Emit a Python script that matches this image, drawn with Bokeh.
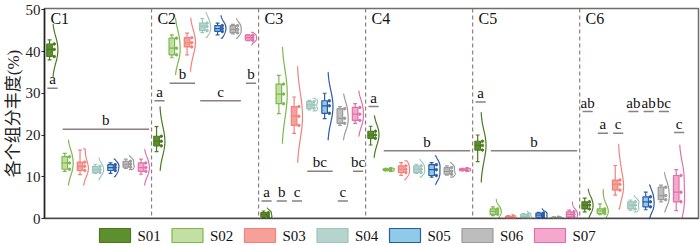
import numpy as np
from bokeh.plotting import figure
from bokeh.layouts import column
from bokeh.models import (Range1d, Span, FixedTicker)
from bokeh.core.properties import value
from bokeh.embed import file_html
from bokeh.resources import INLINE

groups = ["C1", "C2", "C3", "C4", "C5", "C6"]
samples = ["S01", "S02", "S03", "S04", "S05", "S06", "S07"]

# per group (rows) x sample (cols)
wmin = [[38.0, 11.3, 10.5, 10.8, 10.8, 12.0, 10.6],
        [16.0, 38.5, 39.2, 44.5, 44.0, 44.2, 42.6],
        [0.2, 25.1, 20.4, 26.0, 23.9, 22.3, 22.8],
        [17.6, 11.4, 10.3, 10.8, 9.9, 10.4, 11.4],
        [13.6, 0.7, 0.0, 0.0, 0.1, 0.05, 0.2],
        [1.6, 0.9, 5.6, 2.0, 2.1, 4.0, 1.9]]
q1 = [[38.8, 11.8, 11.5, 11.0, 11.5, 12.3, 11.3],
      [17.4, 39.2, 41.1, 45.0, 44.8, 44.5, 42.7],
      [0.4, 27.5, 22.3, 26.4, 25.2, 22.8, 23.5],
      [19.2, 11.5, 11.0, 11.0, 10.3, 10.6, 11.5],
      [16.4, 1.0, 0.1, 0.2, 0.3, 0.1, 0.4],
      [2.3, 1.2, 6.8, 2.3, 2.8, 4.5, 4.0]]
med = [[40.5, 13.3, 12.5, 11.7, 12.2, 13.0, 12.2],
       [18.5, 40.8, 42.1, 46.0, 45.5, 45.3, 43.3],
       [0.9, 29.8, 24.5, 27.2, 27.0, 24.0, 25.0],
       [20.0, 11.7, 11.8, 11.8, 11.7, 11.3, 11.7],
       [17.5, 1.7, 0.3, 0.5, 0.8, 0.2, 1.0],
       [3.2, 1.8, 8.2, 3.2, 4.0, 5.5, 6.3]]
q3 = [[41.8, 14.8, 13.5, 12.5, 12.9, 13.7, 13.3],
      [19.7, 43.2, 43.3, 46.8, 46.2, 46.2, 43.9],
      [1.4, 32.2, 26.8, 28.0, 28.2, 26.3, 26.6],
      [20.9, 11.9, 12.6, 12.6, 12.9, 12.2, 11.9],
      [18.5, 2.3, 0.5, 1.0, 1.3, 0.3, 1.6],
      [4.0, 2.3, 9.2, 4.0, 5.2, 7.5, 10.3]]
wmax = [[42.8, 15.6, 16.4, 13.0, 13.3, 14.2, 14.2],
        [22.0, 44.0, 44.4, 47.9, 46.8, 46.5, 44.0],
        [1.8, 34.3, 29.1, 28.3, 30.0, 26.8, 27.5],
        [22.1, 12.0, 13.4, 13.0, 13.4, 12.6, 12.0],
        [20.0, 2.8, 0.7, 1.2, 1.5, 0.4, 2.0],
        [4.9, 3.5, 12.7, 4.4, 6.3, 8.0, 11.7]]
vmin = [[34.0, 8.0, 8.0, 9.3, 10.0, 11.7, 8.0],
        [11.5, 34.5, 35.2, 43.4, 43.2, 43.2, 41.6],
        [0.0, 18.0, 13.4, 25.8, 18.8, 18.8, 19.7],
        [14.6, 11.3, 9.3, 9.9, 8.2, 9.9, 11.3],
        [8.7, 0.0, 0.0, 0.0, 0.0, 0.0, 0.0],
        [0.0, 0.0, 2.3, 1.6, 0.0, 1.6, 0.0]]
vmax = [[46.5, 18.8, 16.7, 14.5, 14.2, 15.0, 16.5],
        [26.8, 48.0, 48.0, 49.3, 48.6, 47.9, 44.6],
        [2.5, 41.0, 36.4, 28.8, 35.0, 29.8, 30.5],
        [24.6, 12.2, 13.8, 14.1, 15.0, 13.4, 12.2],
        [25.4, 4.6, 1.0, 1.8, 2.4, 0.5, 4.0],
        [7.0, 7.0, 17.8, 5.4, 8.0, 11.0, 17.6]]

# significance letters: group, first sample, last sample, height, letter
sig_group = [0, 0, 1, 1, 1, 1, 2, 2, 2, 2, 2, 2, 3, 3, 4, 4, 5, 5, 5, 5, 5, 5, 5]
sig_from = [0, 1, 0, 1, 3, 6, 0, 1, 2, 3, 5, 6, 0, 1, 0, 1, 0, 1, 2, 3, 4, 5, 6]
sig_to = [0, 6, 0, 2, 5, 6, 0, 1, 2, 4, 5, 6, 0, 6, 0, 6, 0, 1, 2, 3, 4, 5, 6]
sig_y = [31.2, 21.4, 28.2, 32.4, 28.2, 32.4, 4.2, 4.2, 4.2, 11.3, 4.2, 11.3,
         26.8, 16.2, 27.9, 16.2, 25.6, 20.4, 20.4, 25.6, 25.6, 25.6, 20.6]
sig_text = ["a", "b", "a", "b", "c", "b", "a", "b", "c", "bc", "c", "bc",
            "a", "b", "a", "b", "ab", "a", "c", "ab", "ab", "bc", "c"]

box_fill = ["#5e8f2f", "#c4dfa4", "#f5a199", "#b5d4cd", "#8fcbe8", "#bdbdbd", "#f4a8cb"]
box_line = ["#4a7a1f", "#7cb84c", "#f0827c", "#9cc5bc", "#2a5ba8", "#9a9a9a", "#e070aa"]
sep_color = "#8e7f7f"
SERIF = "'Liberation Serif', 'Times New Roman', serif"

GW = 0.047   # offset of first sample in group
SW = 0.1425  # sample spacing
BH = 0.026   # box half width
CH = 0.018   # cap half width
VW = 0.048   # violin width


def xpos(g, s):
    return g + GW + s * SW


p = figure(frame_width=654, frame_height=210, output_backend="svg", toolbar_location=None,
           x_range=Range1d(0, 6.11), y_range=Range1d(0, 50.3),
           x_axis_location=None, min_border_left=34, min_border_right=3,
           min_border_top=8, min_border_bottom=9)
p.grid.visible = False
p.outline_line_color = "#6e6e6e"
p.outline_line_width = 1.5
p.background_fill_color = "white"

yax = p.yaxis[0]
yax.ticker = FixedTicker(ticks=[0, 10, 20, 30, 40, 50])
yax.axis_line_color = "#222222"
yax.axis_line_width = 1.5
yax.major_tick_out = 3
yax.major_tick_in = 0
yax.minor_tick_out = 0
yax.minor_tick_in = 0
yax.major_tick_line_color = "#222222"
yax.major_label_text_font = SERIF
yax.major_label_text_font_size = "15px"
yax.major_label_text_color = "#222222"
yax.major_label_standoff = 1
yax.axis_label = "各个组分丰度(%)"
yax.axis_label_text_font = "'Liberation Serif', 'Noto Sans CJK SC'"
yax.axis_label_text_font_size = "17px"
yax.axis_label_text_font_style = "normal"
yax.axis_label_text_color = "#222222"
yax.axis_label_standoff = 0

p.add_layout(Span(location=0, dimension="width", line_color="#222222", line_width=1.5))

# group separators
for g in range(1, 6):
    p.add_layout(Span(location=g, dimension="height", line_color=sep_color,
                      line_width=1.2, line_dash="4 3"))

# group labels
p.text(x=[g + 0.055 for g in range(6)], y=[50.0] * 6, text=groups,
       text_font=value(SERIF), text_font_size="16px", text_baseline="top",
       text_align="left", text_color="#111111")

# boxes, whiskers, violins, dots
for s in range(7):
    bl, br, bt, bb = [], [], [], []
    wx0, wy0, wx1, wy1 = [], [], [], []
    vx, vy = [], []
    dx, dy = [], []
    for g in range(6):
        xc = xpos(g, s)
        bl.append(xc - BH); br.append(xc + BH)
        bb.append(q1[g][s]); bt.append(q3[g][s])
        wx0 += [xc, xc, xc - CH, xc - CH]
        wx1 += [xc, xc, xc + CH, xc + CH]
        wy0 += [wmin[g][s], q3[g][s], wmin[g][s], wmax[g][s]]
        wy1 += [q1[g][s], wmax[g][s], wmin[g][s], wmax[g][s]]
        # half violin (kde of the summary values)
        pts = np.array([wmin[g][s], q1[g][s], med[g][s], q3[g][s], wmax[g][s]])
        lo, hi = vmin[g][s], vmax[g][s]
        h = max((hi - lo) / 6.0, 0.12)
        ys = np.linspace(hi, lo, 50)
        d = np.exp(-0.5 * ((ys[:, None] - pts[None, :]) / h) ** 2).sum(axis=1)
        d = d / d.max()
        spine = xc + BH + 0.004
        vx.append(list(np.r_[spine, spine + VW * d, spine]))
        vy.append(list(np.r_[hi, ys, lo]))
        dx += [spine + 0.014] * 3
        dy += [q1[g][s], med[g][s], q3[g][s]]
    p.multi_line(xs=vx, ys=vy, line_color=box_line[s], line_width=1.2)
    p.segment(x0=wx0, y0=wy0, x1=wx1, y1=wy1, line_color=box_line[s], line_width=1.2)
    p.quad(left=bl, right=br, top=bt, bottom=bb, fill_color=box_fill[s],
           line_color=box_line[s], line_width=1.2)
    p.segment(x0=[xpos(g, s) - BH for g in range(6)], x1=[xpos(g, s) + BH for g in range(6)],
              y0=[med[g][s] for g in range(6)], y1=[med[g][s] for g in range(6)],
              line_color=box_line[s], line_width=1.2)
    p.scatter(x=dx, y=dy, size=2.5, color=box_line[s])

# significance lines and letters
lx0 = [xpos(g, a) - 0.02 for g, a in zip(sig_group, sig_from)]
lx1 = [xpos(g, b) + 0.075 for g, b in zip(sig_group, sig_to)]
p.segment(x0=lx0, x1=lx1, y0=sig_y, y1=sig_y, line_color=sep_color, line_width=1.5)
p.text(x=[(a + b) / 2 for a, b in zip(lx0, lx1)], y=[v + 0.2 for v in sig_y], text=sig_text,
       text_font=value(SERIF), text_font_size="15px", text_align="center",
       text_baseline="bottom", text_color="#111111")

# legend strip (pixel coordinates, frame aligned with the plot frame)
leg = figure(frame_width=654, frame_height=18, output_backend="svg", toolbar_location=None,
             x_range=Range1d(0, 654), y_range=Range1d(0, 18),
             x_axis_location=None, y_axis_location=None,
             min_border=0, outline_line_color=None)
leg.grid.visible = False
L0, LS = 55.0, 72.5
lx = [L0 + j * LS for j in range(len(samples))]
leg.quad(left=lx, right=[v + 31 for v in lx], top=[17] * 7, bottom=[3] * 7,
         fill_color=box_fill, line_color=box_line, line_width=1.2)
leg.text(x=[v + 38 for v in lx], y=[10] * 7, text=samples,
         text_font=value(SERIF), text_font_size="15px", text_baseline="middle",
         text_align="left", text_color="#111111")

layout = column(p, leg, spacing=0)
open("out.html", "w").write(file_html(layout, INLINE))
